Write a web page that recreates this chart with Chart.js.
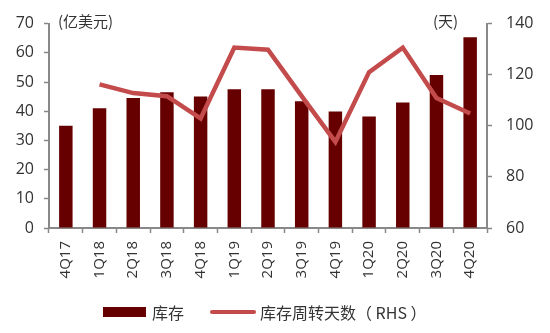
<!DOCTYPE html>
<html>
<head>
<meta charset="utf-8">
<script src="https://cdn.jsdelivr.net/npm/chart.js@4/dist/chart.umd.min.js"></script>
<style>
    body { margin: 0; background: #fff; }
    .wrap { position: relative; width: 550px; height: 333px; }
    .unit { position: absolute; font-family: "Noto Sans CJK SC", sans-serif; font-size: 15px; color: #333; }
    .legend { position: absolute; top: 300px; left: 103px; display: flex; align-items: center;
              font-family: "Noto Sans CJK SC", sans-serif; font-size: 16px; color: #333; }
    .sw-bar { width: 43px; height: 10px; background: #660000; margin-right: 6px; }
    .sw-line { width: 46px; height: 4px; background: #C34B4B; margin: 0 4px 0 26px; border-radius: 2px; }
</style>
</head>
<body>
<div class="wrap">
    <canvas id="chart" width="550" height="333"></canvas>
    <div class="unit" style="left:58px; top:10px;">(亿美元)</div>
    <div class="unit" style="left:433px; top:10px;">(天)</div>
    <div class="legend">
        <div class="sw-bar"></div><span>库存</span>
        <div class="sw-line"></div><span>库存周转天数（ RHS ）</span>
    </div>
</div>
<script>
// Chart data
const quarters = ['4Q17', '1Q18', '2Q18', '3Q18', '4Q18', '1Q19', '2Q19', '3Q19', '4Q19', '1Q20', '2Q20', '3Q20', '4Q20'];
const inventory = [35, 41, 44.5, 46.5, 45, 47.5, 47.5, 43.4, 39.9, 38.2, 43, 52.4, 65.3];
const turnoverDays = [null, 116.2, 112.8, 111.6, 102.9, 130.6, 129.8, 111.6, 93.7, 121, 130.6, 110.9, 104.8];

const axisGray = '#888888';
const tickFont = { family: 'Open Sans', size: 16 };

new Chart(document.getElementById('chart'), {
    type: 'bar',
    data: {
        labels: quarters,
        datasets: [{
            type: 'line',
            label: '库存周转天数（RHS）',
            data: turnoverDays,
            yAxisID: 'y1',
            borderColor: '#C34B4B',
            borderWidth: 4.5,
            pointRadius: 0,
            tension: 0,
            order: 0
        }, {
            label: '库存',
            data: inventory,
            yAxisID: 'y',
            backgroundColor: '#660000',
            barPercentage: 0.4,
            categoryPercentage: 1,
            order: 1
        }]
    },
    options: {
        responsive: false,
        animation: false,
        layout: { padding: { top: 19 } },
        plugins: {
            legend: { display: false },
            tooltip: { enabled: false }
        },
        scales: {
            x: {
                grid: { drawOnChartArea: false, tickLength: 5, color: axisGray, tickWidth: 1.5 },
                border: { color: axisGray, width: 2 },
                ticks: { minRotation: 90, maxRotation: 90, color: '#333', font: { family: 'Open Sans', size: 15 }, padding: 8 },
                afterFit: function(scale) { scale.height = 105; }
            },
            y: {
                position: 'left',
                min: 0,
                max: 70,
                grid: { drawOnChartArea: false, tickLength: 5, color: axisGray, tickWidth: 1.5 },
                border: { color: axisGray, width: 2 },
                ticks: { stepSize: 10, color: '#333', font: tickFont, padding: 10 },
                afterFit: function(scale) { scale.width = 49; }
            },
            y1: {
                position: 'right',
                min: 60,
                max: 140,
                grid: { drawOnChartArea: false, tickLength: 5, color: axisGray, tickWidth: 1.5 },
                border: { color: axisGray, width: 2 },
                ticks: { stepSize: 20, color: '#333', font: tickFont, padding: 14 },
                afterFit: function(scale) { scale.width = 63; }
            }
        }
    }
});
</script>
</body>
</html>
